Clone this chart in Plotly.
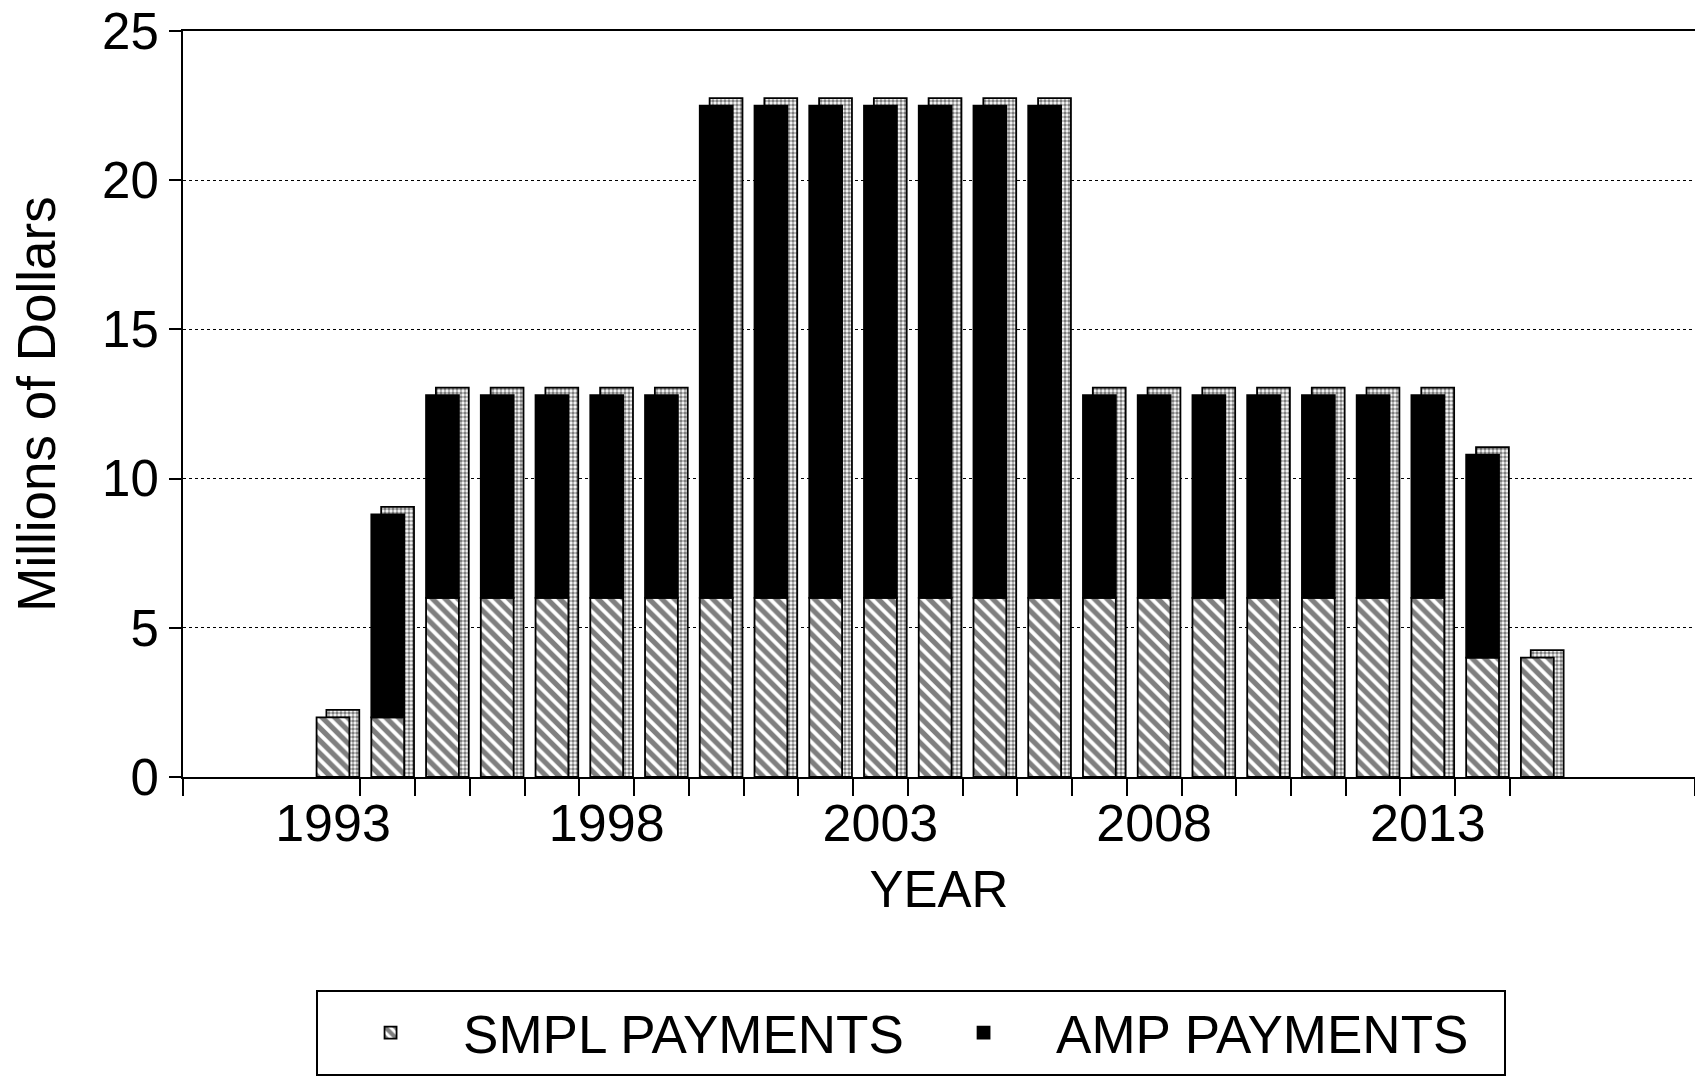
import plotly.graph_objects as go

# ---- data ----
years = [1993, 1994, 1995, 1996, 1997, 1998, 1999, 2000, 2001, 2002, 2003, 2004,
         2005, 2006, 2007, 2008, 2009, 2010, 2011, 2012, 2013, 2014, 2015]
smpl_payments = [2.0, 2.0, 6.0, 6.0, 6.0, 6.0, 6.0, 6.0, 6.0, 6.0, 6.0, 6.0,
                 6.0, 6.0, 6.0, 6.0, 6.0, 6.0, 6.0, 6.0, 6.0, 4.0, 4.0]
amp_payments = [None, 6.8, 6.8, 6.8, 6.8, 6.8, 6.8, 16.5, 16.5, 16.5, 16.5, 16.5,
                16.5, 16.5, 6.8, 6.8, 6.8, 6.8, 6.8, 6.8, 6.8, 6.8, None]
tick_years = [1993, 1998, 2003, 2008, 2013]
tick_labels = ["1993", "1998", "2003", "2008", "2013"]

FONT = "Liberation Sans, Arial, Helvetica, sans-serif"
X_RANGE = [1990.26, 2017.88]
BAR_W = 0.6
DEPTH_X = 0.18
DEPTH_Y = 0.25

totals = [s + (a or 0) for s, a in zip(smpl_payments, amp_payments)]

fig = go.Figure()

# pseudo-3D depth (side + top faces) behind the bars
fig.add_trace(go.Bar(
    x=years, y=[t + DEPTH_Y for t in totals],
    width=BAR_W, offset=-BAR_W / 2 + DEPTH_X,
    marker=dict(color="white",
                pattern=dict(shape=".", fgcolor="black", bgcolor="white",
                             size=4, solidity=0.6),
                line=dict(color="black", width=1.8)),
    showlegend=False, hoverinfo="skip",
))

fig.add_trace(go.Bar(
    name="SMPL PAYMENTS", x=years, y=smpl_payments,
    width=BAR_W, offset=-BAR_W / 2,
    marker=dict(color="white",
                pattern=dict(shape="\\", fgcolor="black", bgcolor="white",
                             size=9, solidity=0.58),
                line=dict(color="black", width=1.8)),
))

fig.add_trace(go.Bar(
    name="AMP PAYMENTS", x=years, y=amp_payments, base=smpl_payments,
    width=BAR_W, offset=-BAR_W / 2,
    marker=dict(color="black", line=dict(color="black", width=1.8)),
))

minor_ticks = [X_RANGE[0]] + [y + 0.5 for y in years[:-1]] + [X_RANGE[1]]

fig.update_layout(
    width=1695, height=1090,
    margin=dict(l=183, r=0, t=31, b=313),
    paper_bgcolor="white", plot_bgcolor="white",
    barmode="overlay",
    font=dict(family=FONT, color="black", size=52),
    xaxis=dict(
        range=X_RANGE, tickmode="array", tickvals=tick_years, ticktext=tick_labels,
        ticks="", showgrid=False, zeroline=False,
        showline=True, linecolor="black", linewidth=2, mirror=True,
        tickfont=dict(size=52), automargin=False,
        minor=dict(tickmode="array", tickvals=minor_ticks, ticks="outside",
                   ticklen=17, tickwidth=1.5, tickcolor="black", showgrid=False),
        title=dict(text="YEAR", font=dict(size=51), standoff=20),
    ),
    yaxis=dict(
        range=[0, 25], tickvals=[0, 5, 10, 15, 20, 25],
        ticks="outside", ticklen=12, tickwidth=1.5, tickcolor="black",
        showline=True, linecolor="black", linewidth=2, mirror=False,
        showgrid=True, gridcolor="black", gridwidth=1, griddash="dot",
        zeroline=False, tickfont=dict(size=51), automargin=False,
        ticklabeloverflow="allow",
        title=dict(text="Millions of Dollars", font=dict(size=53), standoff=30),
    ),
    legend=dict(
        orientation="h", x=0.088, y=-0.285, xanchor="left", yanchor="top",
        bordercolor="black", borderwidth=2, bgcolor="white",
        font=dict(size=53, family=FONT), entrywidth=443, itemwidth=135,
    ),
)

fig.write_html("out.html")
